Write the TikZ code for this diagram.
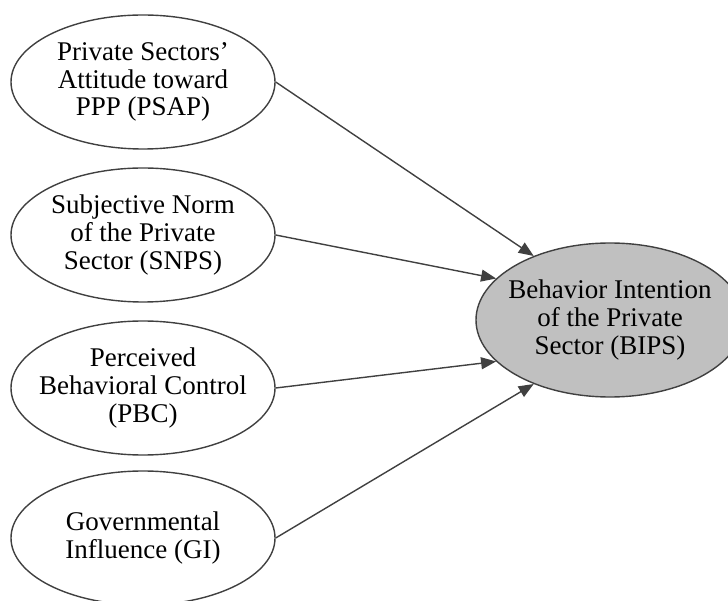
\documentclass[tikz,border=0pt]{standalone}
\usepackage{fontspec}
\setmainfont{Liberation Serif}
\usetikzlibrary{positioning,shapes.geometric,arrows.meta}
\definecolor{linegray}{HTML}{404040}
\definecolor{fillgray}{HTML}{C0C0C0}

\begin{document}
\begin{tikzpicture}[x=0.5pt, y=0.5pt,
    construct/.style={ellipse, draw=linegray, line width=0.7pt, align=center,
      inner xsep=-25pt, inner ysep=0pt, minimum width=132pt, minimum height=67pt,
      font=\fontsize{13.5}{13.8}\selectfont},
    outcome/.style={construct, fill=fillgray, minimum width=134pt, minimum height=77pt},
    path/.style={draw=linegray, line width=0.7pt, -{Triangle[length=7.5pt,width=6pt]}}]
          \useasboundingbox (0, 0) rectangle (728, 600);%
          \node [construct] (psap) at (143, 518) {Private Sectors'\\%
            Attitude toward\\PPP (PSAP)};%
          \node [construct] (snps) at (143, 365) {Subjective Norm\\%
            of the Private\\Sector (SNPS)};%
          \node [construct] (pbc) at (143, 212) {Perceived\\%
            Behavioral Control\\(PBC)};%
          \node [construct] (gi) at (143, 62) {Governmental\\%
            Influence (GI)};%
          \node [outcome] (bips) at (610, 280) {Behavior Intention\\%
            of the Private\\Sector (BIPS)};%
          \draw [path] (psap.east) -- (bips.140);%
          \draw [path] (snps.east) -- (bips.160);%
          \draw [path] (pbc.east) -- (bips.200);%
          \draw [path] (gi.east) -- (bips.220);%
        \end{tikzpicture}
\end{document}
